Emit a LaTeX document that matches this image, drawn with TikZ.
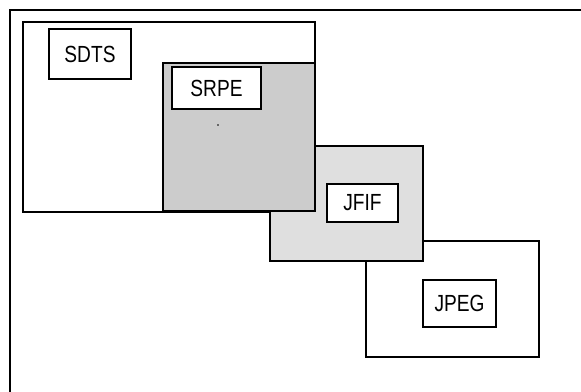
\documentclass[tikz,border=0pt]{standalone}
\usepackage{fontspec}
\setmainfont{Liberation Sans}[FakeStretch=0.82]
\definecolor{srpegray}{HTML}{CCCCCC}
\definecolor{jfifgray}{HTML}{DFDFDF}
\begin{document}
\begin{tikzpicture}[x=0.75pt,y=-0.75pt,
  region/.style={draw=black,line width=1.6pt,inner sep=0pt,outer sep=0pt},
  labelbox/.style={draw=black,fill=white,line width=1.6pt,inner sep=0pt,outer sep=0pt,font=\fontsize{17.5}{19}\selectfont}]
\useasboundingbox (0,0) rectangle (581,392);
\coordinate (fbl) at (10,392);
\coordinate (ftl) at (10,10);
\coordinate (ftr) at (581,10);
\draw[line width=1.6pt] (fbl) -- (ftl) -- (ftr);
\node[region,fill=white,minimum width=219pt,minimum height=142.5pt] (sdtsr) at (169,117) {};
\node[region,fill=white,minimum width=129.75pt,minimum height=87pt] (jpegr) at (452.5,299) {};
\node[region,fill=jfifgray,minimum width=114.75pt,minimum height=86.25pt] (jfifr) at (346.5,203.5) {};
\node[region,fill=srpegray,minimum width=114pt,minimum height=111pt] (srper) at (239,137) {};
\node[labelbox,minimum width=61.5pt,minimum height=37.5pt] (sdts) at (90,54) {SDTS};
\node[labelbox,minimum width=66.75pt,minimum height=31.5pt] (srpe) at (216.5,88) {SRPE};
\node[labelbox,minimum width=53.25pt,minimum height=28.5pt] (jfif) at (362.5,203) {JFIF};
\node[labelbox,minimum width=54.75pt,minimum height=35.25pt] (jpeg) at (459.5,303.5) {JPEG};
\fill (218,125) circle (0.9);
\end{tikzpicture}
\end{document}
